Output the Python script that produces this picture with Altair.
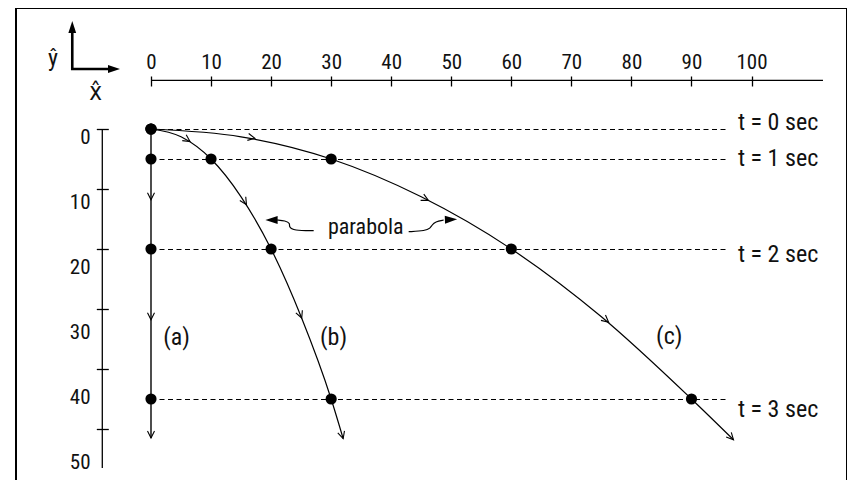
import altair as alt
import pandas as pd

FONT = ("'Liberation Sans Narrow', 'Arial Narrow', 'Roboto Condensed', 'Noto Sans ExtraCondensed', "
        "'Noto Sans Condensed', 'Open Sans Condensed', 'DejaVu Sans Condensed', sans-serif")

# ---- axis ticks ----
x_ticks = [0, 10, 20, 30, 40, 50, 60, 70, 80, 90, 100]
y_ticks = [0, 10, 20, 30, 40, 50]

# ---- positions at t = 0,1,2,3 s ----
times = [0, 1, 2, 3]
drop_y = [0, 5, 20, 45]
x_a = [0, 0, 0, 0]
x_b = [0, 10, 20, 30]
x_c = [0, 30, 60, 90]

# ---- trajectories ----
a_end_y = 51.5
curve_b_x = [0, 5, 10, 15, 20, 25, 30, 32]
curve_b_y = [0, 1.3, 5, 11.3, 20, 31.3, 45, 51.6]
curve_c_x = [0, 15, 30, 45, 60, 75, 90, 97]
curve_c_y = [0, 1.3, 5, 11.3, 20, 31.3, 45, 51.8]

# ---- open arrowheads along the paths (x, y, direction in degrees) ----
arrow_x = [0, 0, 0, 6.5, 15.9, 25.1, 32, 17.3, 46.2, 76.2, 97]
arrow_y = [11.8, 31.8, 51.5, 2.1, 12.6, 31.5, 51.6, 1.55, 11.9, 32.2, 51.8]
arrow_ang = [90, 90, 90, 34, 58, 68, 73, 11, 27, 40, 47]

# ---- dashed time lines ----
dash_y = [0.08, 5.08, 20.08, 45.08]
dash_end_x = 95.9
t_labels = ["t = 0 sec", "t = 1 sec", "t = 2 sec", "t = 3 sec"]
t_label_x = 97.75
t_label_y = [0.17, 6.1, 22.1, 47.95]

# ---- axis lines ----
x_axis_y = -8.1
x_axis_end = 111.9
y_axis_x = -8.11
y_axis_end = 56.5

# ---- curve labels ----
case_labels = ["(a)", "(b)", "(c)"]
case_x = [4.25, 30.4, 86.3]
case_y = [34.9, 34.9, 34.7]

para_text = "parabola"
para_x = 35.77
para_y = 17.55

# ---- squiggly pointers ----
sq_left_x = [27.09, 23.76, 22.93, 23.20, 22.36, 20.98]
sq_left_y = [16.95, 16.95, 16.28, 15.72, 15.28, 15.17]
sq_right_x = [42.91, 45.68, 46.51, 46.79, 47.34, 48.74]
sq_right_y = [17.12, 16.95, 16.55, 16.00, 15.45, 15.17]
head_x = [20.07, 49.96, -13.11, -6.16]
head_y = [15.17, 15.08, -17.0, -10.0]
head_ang = [180, 358, 270, 0]
head_size = [150, 150, 144, 144]

# ---- unit vector icon ----
icon_x = [-13.11, -13.11, -7.16]
icon_y = [-16.17, -10.0, -10.0]
hat_labels = ["ŷ", "x̂"]
hat_x = [-16.3, -9.21]
hat_y = [-11.6, -6.0]

# ================= scales / axes =================
xs = alt.Scale(domain=[-22.48, 115.9], nice=False, zero=False)
ys = alt.Scale(domain=[-20.1667, 59.8333], nice=False, zero=False, reverse=True)

xax = alt.Axis(orient="top", values=x_ticks, offset=-78, tickSize=10, tickWidth=1.3,
               tickColor="black", domain=False, grid=False, labelFont=FONT,
               labelFontSize=21, labelPadding=3.6, labelColor="#111", title=None,
               labelOverlap=False, labelFlush=False)
yax = alt.Axis(orient="left", values=y_ticks, offset=-92.3, tickSize=12, tickWidth=1.3,
               tickColor="black", domain=False, grid=False, labelFont=FONT,
               labelFontSize=21, labelPadding=6.3, labelColor="#111", title=None,
               labelOverlap=False, labelFlush=False,
               labelOffset=alt.ExprRef(expr="8.4 + 0.5*datum.value"))

X = lambda f: alt.X(f, type="quantitative", scale=xs, axis=xax)
Y = lambda f: alt.Y(f, type="quantitative", scale=ys, axis=yax)

# ================= data frames =================
dash_df = pd.DataFrame({"x": [0] * 4, "x2": [dash_end_x] * 4, "y": dash_y})

dots_df = pd.DataFrame({
    "x": x_a + x_b + x_c,
    "y": drop_y * 3,
})

curves_df = pd.DataFrame({
    "x": curve_b_x + curve_c_x,
    "y": curve_b_y + curve_c_y,
    "c": ["b"] * len(curve_b_x) + ["c"] * len(curve_c_x),
})

arrows_df = pd.DataFrame({"x": arrow_x, "y": arrow_y, "a": arrow_ang})

tlab_df = pd.DataFrame({"x": [t_label_x] * 4, "y": t_label_y, "t": t_labels})
case_df = pd.DataFrame({"x": case_x, "y": case_y, "t": case_labels})
para_df = pd.DataFrame({"x": [para_x], "y": [para_y], "t": [para_text]})

sq_df = pd.DataFrame({
    "x": sq_left_x + sq_right_x,
    "y": sq_left_y + sq_right_y,
    "s": ["L"] * len(sq_left_x) + ["R"] * len(sq_right_x),
    "o": list(range(len(sq_left_x))) + list(range(len(sq_right_x))),
})
heads_df = pd.DataFrame({"x": head_x, "y": head_y, "a": head_ang, "s": head_size})
icon_df = pd.DataFrame({"x": icon_x, "y": icon_y, "o": [0, 1, 2]})
hat_df = pd.DataFrame({"x": hat_x, "y": hat_y, "t": hat_labels})

xaxis_df = pd.DataFrame({"x": [0], "x2": [x_axis_end], "y": [x_axis_y]})
yaxis_df = pd.DataFrame({"x": [y_axis_x], "y": [0], "y2": [y_axis_end]})
aline_df = pd.DataFrame({"x": [0], "y": [0], "y2": [a_end_y]})

# ================= layers =================
dashes = alt.Chart(dash_df).mark_rule(color="black", strokeWidth=1.1, strokeDash=[5, 3.5]).encode(
    x=X("x"), x2="x2", y=Y("y"))

xaxis_line = alt.Chart(xaxis_df).mark_rule(color="black", strokeWidth=1.3).encode(
    x=X("x"), x2="x2", y=Y("y"))
yaxis_line = alt.Chart(yaxis_df).mark_rule(color="black", strokeWidth=1.3).encode(
    x=X("x"), y=Y("y"), y2="y2")

a_line = alt.Chart(aline_df).mark_rule(color="black", strokeWidth=1.4).encode(
    x=X("x"), y=Y("y"), y2="y2")

curves = alt.Chart(curves_df).mark_line(color="black", strokeWidth=1.2, interpolate="monotone").encode(
    x=X("x"), y=Y("y"), detail="c:N")

chevrons = alt.Chart(arrows_df).mark_point(
    shape="M -1 -0.5 L 0 0 L -1 0.5", filled=False, stroke="black", strokeWidth=1.1,
    opacity=1, size=196).encode(
    x=X("x"), y=Y("y"), angle=alt.Angle("a:Q", scale=None))

dots = alt.Chart(dots_df).mark_circle(color="black", opacity=1, size=125).encode(
    x=X("x"), y=Y("y"))

tlabels = alt.Chart(tlab_df).mark_text(font=FONT, fontSize=24, align="left", baseline="alphabetic",
                                       color="#111").encode(x=X("x"), y=Y("y"), text="t:N")
cases = alt.Chart(case_df).mark_text(font=FONT, fontSize=24, align="center", baseline="middle",
                                     color="#111").encode(x=X("x"), y=Y("y"), text="t:N")
para = alt.Chart(para_df).mark_text(font=FONT, fontSize=22, align="center", baseline="alphabetic",
                                    color="#111").encode(x=X("x"), y=Y("y"), text="t:N")

squiggles = alt.Chart(sq_df).mark_line(color="black", strokeWidth=1.2, interpolate="basis").encode(
    x=X("x"), y=Y("y"), detail="s:N", order="o:Q")

heads = alt.Chart(heads_df).mark_point(
    shape="M 1 0 L -1 -0.65 L -1 0.65 Z", filled=True, color="black", opacity=1).encode(
    x=X("x"), y=Y("y"), angle=alt.Angle("a:Q", scale=None), size=alt.Size("s:Q", scale=None))

icon = alt.Chart(icon_df).mark_line(color="black", strokeWidth=2.6, interpolate="linear").encode(
    x=X("x"), y=Y("y"), order="o:Q")

hats = alt.Chart(hat_df).mark_text(font=FONT, fontSize=24, align="center", baseline="middle",
                                   color="#111").encode(x=X("x"), y=Y("y"), text="t:N")

chart = alt.layer(
    dashes, xaxis_line, yaxis_line, a_line, curves, squiggles, chevrons, dots,
    heads, icon, tlabels, cases, para, hats
).properties(
    width=831, height=480,
    background="white",
    padding={"left": 8, "top": 0, "right": 0, "bottom": 0},
    autosize=alt.AutoSizeParams(type="none"),
).configure_view(
    stroke="black", strokeWidth=2
)

chart.save("out.html", embed_options={"renderer": "svg", "actions": False})
